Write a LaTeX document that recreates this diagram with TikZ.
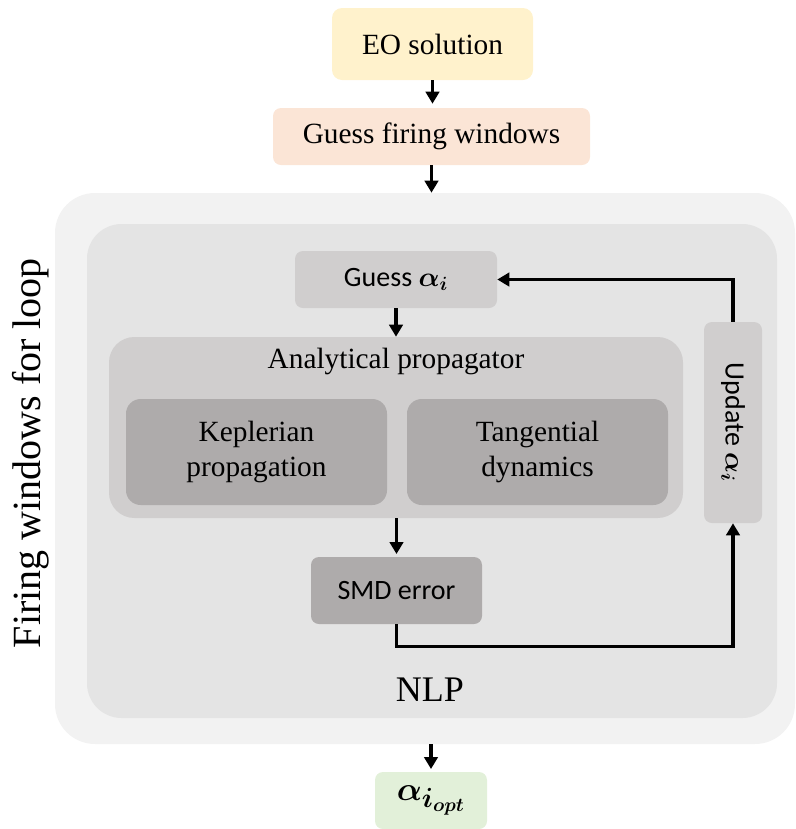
\documentclass[tikz,border=0pt]{standalone}
\usepackage{amsmath, amssymb, bm}
\usepackage{fontspec}
\setmainfont{Liberation Serif}
\newfontfamily\calibri{Carlito}
\usepackage{tikz}
\usetikzlibrary{arrows.meta, fit}

\definecolor{eoyellow}{HTML}{FFF2CC}
\definecolor{windowpeach}{HTML}{FBE5D6}
\definecolor{loopgray}{HTML}{F2F2F2}
\definecolor{nlpgray}{HTML}{E4E4E4}
\definecolor{midgray}{HTML}{D0CECE}
\definecolor{darkgray}{HTML}{AEABAB}
\definecolor{optgreen}{HTML}{E2F0D9}

\begin{document}
\begin{tikzpicture}[x=0.75pt, y=-0.75pt,
        box/.style={rounded corners=6pt, inner sep=0pt},
        serif/.style={align=center, font=\fontsize{22}{26}\selectfont},
        sans/.style={align=center, font=\calibri\fontsize{21}{25}\selectfont},
        flow/.style={-{Triangle[length=9pt, width=10pt]}, line width=2.6pt}]
    \useasboundingbox (0,0) rectangle (796,829);
    % top of the chain
    \node[box, fill=eoyellow, rounded corners=7.5pt, fit={(332,8) (533,80)},
        label={[serif]center:EO solution}] (eo) {};
    \node[box, fill=windowpeach, fit={(273,108) (590,165)},
        label={[serif]center:Guess firing windows}] (firing) {};
    % loop and NLP frames
    \node[box, fill=loopgray, rounded corners=30pt, fit={(55,193) (795,744)}] (loop) {};
    \node[rotate=90, font=\fontsize{30}{34}\selectfont] (looplabel) at (31,453) {Firing windows for loop};
    \node[box, fill=nlpgray, rounded corners=26pt, fit={(87,224) (777,718)}] (nlp) {};
    \node[font=\fontsize{27}{31}\selectfont] (nlplabel) at (430,690) {NLP};
    % inside the NLP
    \node[box, fill=midgray, fit={(295,251) (497,308)},
        label={[sans]center:Guess $\bm{\alpha_i}$}] (guess) {};
    \node[box, fill=midgray, rounded corners=19pt, fit={(109,337) (683,518)}] (prop) {};
    \node[serif] (proplabel) at (396,361) {Analytical propagator};
    \node[box, fill=darkgray, rounded corners=11pt, fit={(126,399) (387,505)},
        label={[serif]center:Keplerian\\propagation}] (kepler) {};
    \node[box, fill=darkgray, rounded corners=11pt, fit={(407,399) (668,505)},
        label={[serif]center:Tangential\\dynamics}] (tangent) {};
    \node[box, fill=darkgray, fit={(311,557) (482,624)},
        label={[sans]center:SMD error}] (smd) {};
    \node[box, fill=midgray, fit={(704,322) (762,523)}] (update) {};
    \node[sans, rotate=-90] (updatelabel) at (update) {Update $\bm{\alpha_i}$};
    % result
    \node[box, fill=optgreen, fit={(375,772) (487,829)},
        label={[font=\fontsize{28}{32}\selectfont]center:$\bm{\alpha_{i_{opt}}}$}] (opt) {};
    % arrows
    \draw[flow, shorten >=3pt] (eo.south) -- (eo.south |- firing.north);
    \draw[flow] (firing.south) -- (firing.south |- loop.north);
    \draw[flow] (guess.south) -- (guess.south |- prop.north);
    \draw[flow, shorten >=2pt] (prop.south -| smd.north) -- (smd.north);
    \draw[flow] (smd.south) -- ++(0,22) -| (update.south);
    \draw[flow] (update.north) |- (guess.east);
    \draw[flow, shorten >=2pt] (loop.south -| opt.north) -- (opt.north);
\end{tikzpicture}
\end{document}
